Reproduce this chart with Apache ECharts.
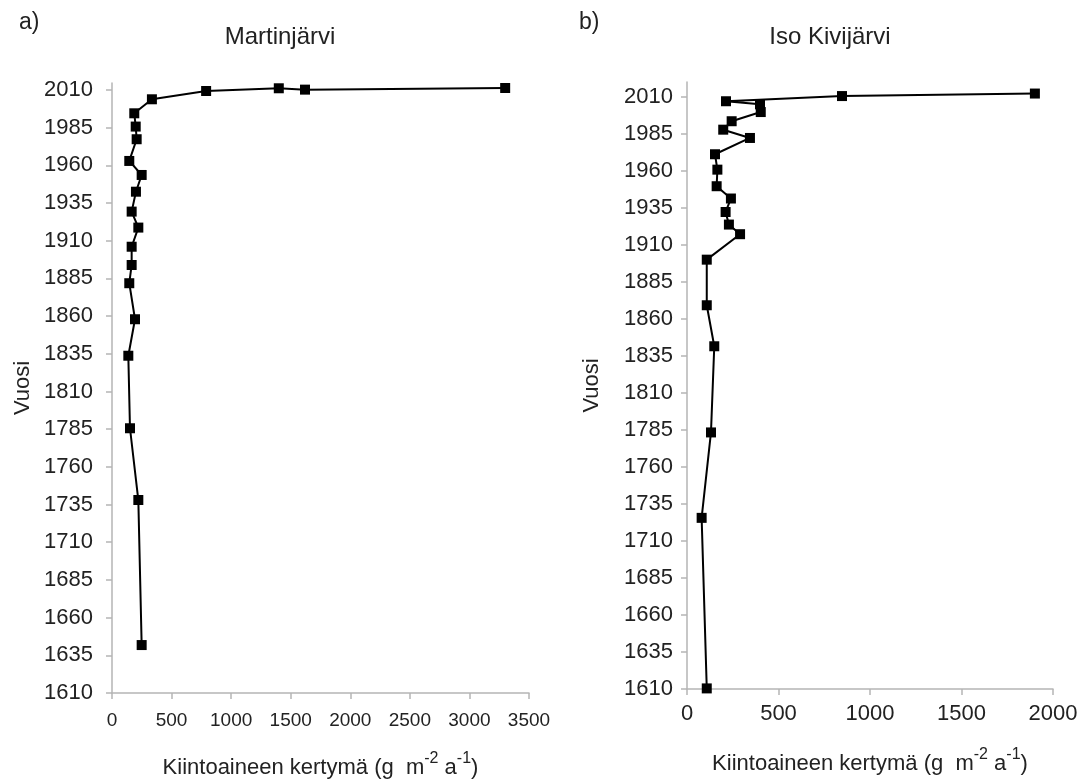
<!DOCTYPE html>
<html>
<head>
<meta charset="utf-8">
<script src="https://cdn.jsdelivr.net/npm/echarts@6/dist/echarts.min.js"></script>
<style>
  html, body { margin: 0; padding: 0; background: #fff; }
  #chart { width: 1087px; height: 781px; }
</style>
</head>
<body>
<div id="chart"></div>
<script>
// Martinjärvi (a)
const martinValues = [3300, 1620, 1400, 790, 335, 187, 199, 207, 145, 249, 201, 165, 221, 165, 165, 145, 193, 137, 151, 221, 249]
const martinYears = [2011.3, 2010.2, 2011.1, 2009.3, 2003.8, 1994.5, 1985.7, 1977.3, 1962.9, 1953.6, 1942.5, 1929.3, 1918.7, 1906, 1893.9, 1881.8, 1857.9, 1833.7, 1785.6, 1738, 1641.8]

// Iso Kivijärvi (b)
const isoValues = [1901, 847, 213, 399, 403, 244, 198, 344, 153, 166, 162, 240, 211, 229, 290, 108, 108, 149, 131, 80, 108]
const isoYears = [2012.2, 2010.5, 2007, 2004.9, 1999.7, 1993.5, 1987.8, 1982.2, 1971.2, 1960.8, 1949.6, 1941.3, 1932.2, 1923.7, 1917.2, 1900, 1869.2, 1841.5, 1783.3, 1725.6, 1610.4]

const yearTicks = [1610, 1635, 1660, 1685, 1710, 1735, 1760, 1785, 1810, 1835, 1860, 1885, 1910, 1935, 1960, 1985, 2010]

const titles = ['Martinjärvi', 'Iso Kivijärvi']
const panelLabels = ['a)', 'b)']
const xName = 'Kiintoaineen kertymä'
const yName = 'Vuosi'

const font = 'Liberation Sans, Arial, sans-serif'
const axisGray = '#b5b5b5'
const textColor = '#222'

const chart = echarts.init(document.getElementById('chart'))

const xAxisName = '{t|' + xName + ' (g  m}{s|-2}{t| a}{s|-1}{t|)}'
const nameRich = {
  t: { fontSize: 22, color: textColor, fontFamily: font, verticalAlign: 'bottom', lineHeight: 28 },
  s: { fontSize: 16, color: textColor, fontFamily: font, verticalAlign: 'top', lineHeight: 28, padding: [0, 0, 8, 0] }
}

const plain = (v) => String(Math.round(v))

const makeY = (gridIndex, max, labelMargin, nameGap) => ({
  type: 'value',
  gridIndex,
  min: 1610,
  max,
  name: yName,
  nameLocation: 'middle',
  nameRotate: 90,
  nameGap,
  nameTextStyle: { fontSize: 22, color: textColor, fontFamily: font },
  axisLine: { show: true, lineStyle: { color: axisGray, width: 1.5 } },
  axisTick: { show: true, length: 6, lineStyle: { color: axisGray, width: 1.5 }, customValues: yearTicks },
  axisLabel: { fontSize: 22, color: textColor, fontFamily: font, margin: labelMargin, customValues: yearTicks, formatter: plain },
  splitLine: { show: false }
})

const makeX = (gridIndex, max, size, labelMargin, nameGap) => ({
  type: 'value',
  gridIndex,
  min: 0,
  max,
  interval: 500,
  name: xAxisName,
  nameLocation: 'middle',
  nameGap,
  nameTextStyle: { rich: nameRich },
  axisLine: { show: true, onZero: false, lineStyle: { color: axisGray, width: 1.5 } },
  axisTick: { show: true, length: 6, lineStyle: { color: axisGray, width: 1.5 } },
  axisLabel: { fontSize: size, color: textColor, fontFamily: font, margin: labelMargin, formatter: plain },
  splitLine: { show: false }
})

const makeSeries = (idx, values, years) => ({
  type: 'line',
  xAxisIndex: idx,
  yAxisIndex: idx,
  data: years.map((y, i) => [values[i], y]),
  symbol: 'rect',
  symbolSize: 10,
  showAllSymbol: true,
  itemStyle: { color: '#000' },
  lineStyle: { color: '#000', width: 2 },
  animation: false
})

const option = {
  backgroundColor: '#fff',
  title: [
    { text: panelLabels[0], left: 14, top: 6, textStyle: { fontSize: 23, fontWeight: 'normal', color: textColor, fontFamily: font } },
    { text: titles[0], left: 275, top: 20, textAlign: 'center', textStyle: { fontSize: 24, fontWeight: 'normal', color: textColor, fontFamily: font } },
    { text: panelLabels[1], left: 574, top: 6, textStyle: { fontSize: 23, fontWeight: 'normal', color: textColor, fontFamily: font } },
    { text: titles[1], left: 825, top: 20, textAlign: 'center', textStyle: { fontSize: 24, fontWeight: 'normal', color: textColor, fontFamily: font } }
  ],
  grid: [
    { left: 112, right: 558, top: 83, bottom: 88, outerBoundsMode: 'none' },
    { left: 687, right: 34, top: 82, bottom: 92, outerBoundsMode: 'none' }
  ],
  xAxis: [makeX(0, 3500, 19, 18, 58), makeX(1, 2000, 22, 14, 58)],
  yAxis: [makeY(0, 2014.6, 19, 78), makeY(1, 2020, 14, 84)],
  series: [
    makeSeries(0, martinValues, martinYears),
    makeSeries(1, isoValues, isoYears)
  ]
}

chart.setOption(option)
</script>
</body>
</html>
